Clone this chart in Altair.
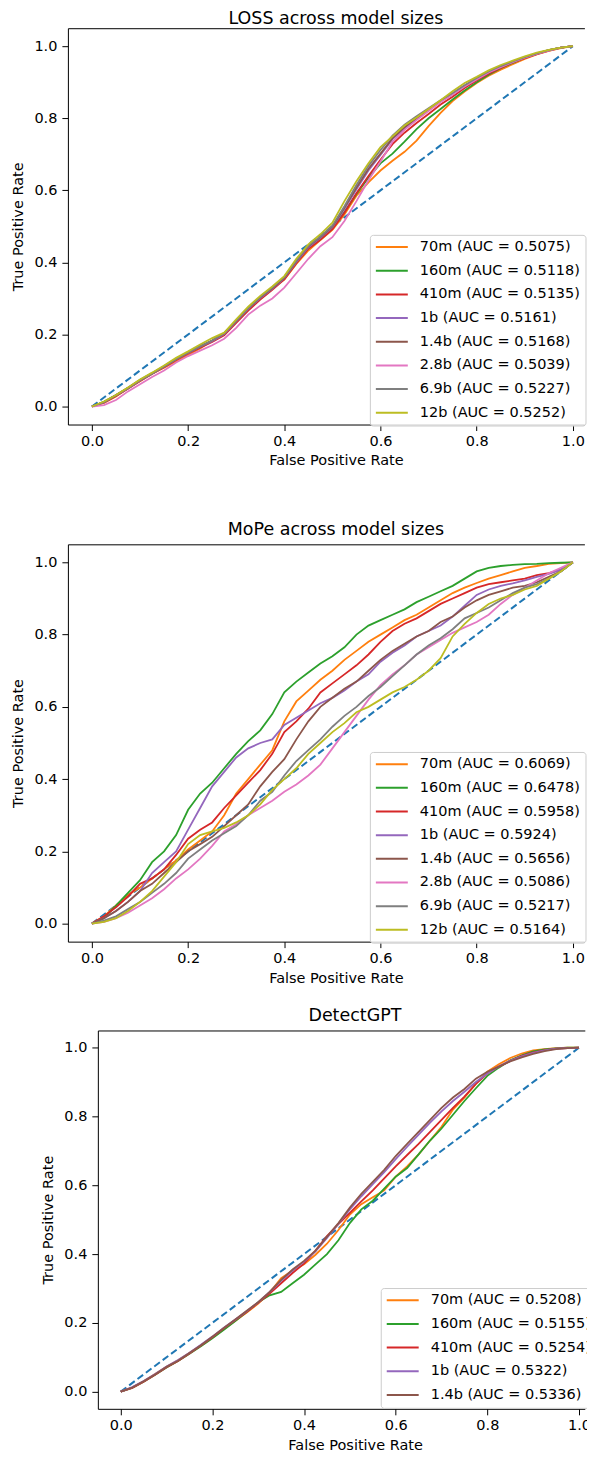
import altair as alt
import pandas as pd

FPR = [0.0, 0.025, 0.05, 0.075, 0.1, 0.125, 0.15, 0.175, 0.2, 0.225, 0.25, 0.275, 0.3, 0.325,
       0.35, 0.375, 0.4, 0.425, 0.45, 0.475, 0.5, 0.525, 0.55, 0.575, 0.6, 0.625, 0.65, 0.675,
       0.7, 0.725, 0.75, 0.775, 0.8, 0.825, 0.85, 0.875, 0.9, 0.925, 0.95, 0.975, 1.0]

MODELS8 = ["70m", "160m", "410m", "1b", "1.4b", "2.8b", "6.9b", "12b"]
MODELS5 = ["70m", "160m", "410m", "1b", "1.4b"]
COLORS = ["#ff7f0e", "#2ca02c", "#d62728", "#9467bd", "#8c564b", "#e377c2", "#7f7f7f", "#bcbd22"]

# ---- LOSS panel ----
LOSS_AUC = ["0.5075", "0.5118", "0.5135", "0.5161", "0.5168", "0.5039", "0.5227", "0.5252"]
LOSS_70M = [0, .010, .028, .051, .070, .091, .108, .126, .143, .161, .183, .204, .238, .272, .299, .330, .352, .396, .433, .462, .490, .533, .585, .622, .655, .682, .707, .738, .778, .815, .848, .874, .898, .918, .935, .950, .965, .977, .987, .995, 1.0]
LOSS_160M = [0, .013, .031, .051, .073, .092, .112, .133, .150, .168, .182, .202, .238, .272, .303, .328, .358, .402, .440, .468, .497, .540, .590, .635, .675, .702, .735, .770, .800, .826, .852, .877, .900, .921, .939, .954, .968, .979, .989, .996, 1.0]
LOSS_410M = [0, .011, .029, .049, .071, .090, .109, .129, .147, .163, .179, .198, .232, .266, .297, .324, .353, .398, .438, .463, .492, .538, .592, .640, .685, .728, .760, .787, .812, .838, .860, .884, .905, .924, .940, .955, .967, .978, .988, .996, 1.0]
LOSS_1B = [0, .012, .031, .051, .072, .091, .111, .131, .149, .166, .181, .201, .236, .271, .301, .327, .356, .401, .442, .468, .498, .548, .603, .655, .698, .742, .772, .798, .823, .847, .867, .890, .910, .928, .943, .957, .969, .980, .989, .996, 1.0]
LOSS_14B = [0, .013, .032, .052, .074, .092, .112, .132, .150, .167, .183, .203, .238, .273, .303, .328, .358, .404, .445, .470, .500, .552, .608, .660, .702, .745, .775, .800, .824, .848, .868, .890, .911, .929, .944, .957, .969, .980, .989, .996, 1.0]
LOSS_28B = [0, .004, .018, .042, .062, .082, .100, .122, .140, .155, .170, .188, .218, .255, .280, .300, .330, .370, .410, .445, .470, .515, .570, .628, .680, .735, .768, .795, .820, .845, .866, .888, .908, .927, .942, .956, .968, .979, .988, .996, 1.0]
LOSS_69B = [0, .012, .031, .051, .073, .091, .111, .131, .150, .167, .183, .203, .238, .273, .304, .330, .360, .405, .446, .472, .502, .556, .615, .668, .712, .752, .782, .806, .828, .850, .870, .892, .912, .930, .945, .958, .970, .980, .989, .996, 1.0]
LOSS_12B = [0, .014, .032, .053, .075, .094, .114, .135, .153, .172, .190, .205, .242, .277, .307, .333, .362, .410, .450, .478, .510, .570, .625, .675, .720, .750, .780, .802, .826, .850, .875, .898, .915, .933, .948, .960, .972, .982, .990, .996, 1.0]

# ---- MoPe panel ----
MOPE_AUC = ["0.6069", "0.6478", "0.5958", "0.5924", "0.5656", "0.5086", "0.5217", "0.5164"]
MOPE_70M = [0, .02, .05, .08, .10, .125, .15, .175, .205, .23, .255, .30, .36, .40, .44, .48, .56, .615, .645, .675, .70, .73, .755, .78, .80, .82, .84, .855, .875, .895, .915, .93, .943, .955, .965, .975, .985, .99, .996, .998, 1.0]
MOPE_160M = [0, .015, .05, .085, .12, .17, .20, .245, .315, .36, .39, .43, .47, .505, .535, .58, .64, .67, .695, .72, .74, .765, .80, .825, .84, .855, .87, .89, .905, .92, .935, .955, .975, .985, .99, .993, .995, .996, .998, .999, 1.0]
MOPE_410M = [0, .02, .045, .075, .11, .125, .15, .19, .235, .26, .28, .32, .355, .39, .425, .47, .53, .56, .595, .64, .665, .69, .715, .745, .78, .81, .83, .845, .865, .885, .90, .915, .93, .94, .945, .95, .955, .965, .97, .98, 1.0]
MOPE_1B = [0, .015, .035, .06, .09, .14, .17, .20, .26, .32, .38, .42, .46, .485, .50, .51, .55, .57, .59, .61, .625, .645, .67, .69, .725, .75, .77, .795, .81, .825, .85, .88, .91, .925, .935, .942, .95, .96, .968, .98, 1.0]
MOPE_14B = [0, .015, .035, .06, .09, .11, .14, .17, .20, .22, .24, .27, .30, .33, .38, .42, .455, .51, .56, .60, .625, .65, .67, .70, .73, .755, .775, .795, .81, .835, .85, .875, .895, .91, .92, .93, .935, .945, .96, .975, 1.0]
MOPE_28B = [0, .005, .015, .03, .05, .07, .095, .125, .15, .18, .215, .255, .275, .30, .32, .34, .365, .385, .41, .44, .485, .53, .575, .62, .66, .69, .715, .745, .765, .785, .805, .82, .835, .855, .885, .91, .93, .95, .97, .985, 1.0]
MOPE_69B = [0, .008, .02, .04, .06, .085, .11, .14, .18, .205, .23, .25, .27, .30, .34, .365, .41, .45, .48, .51, .545, .575, .60, .63, .655, .685, .715, .745, .77, .79, .815, .845, .86, .875, .895, .915, .93, .94, .955, .975, 1.0]
MOPE_12B = [0, .005, .015, .035, .06, .09, .13, .17, .22, .245, .255, .265, .28, .30, .33, .37, .40, .43, .47, .50, .53, .555, .585, .60, .62, .64, .655, .675, .70, .735, .795, .83, .86, .885, .90, .91, .925, .935, .955, .975, 1.0]

# ---- DetectGPT panel ----
DGPT_AUC = ["0.5208", "0.5155", "0.5254", "0.5322", "0.5336"]
DGPT_70M = [0, .012, .030, .051, .072, .091, .112, .134, .157, .182, .206, .230, .256, .288, .330, .352, .370, .398, .430, .470, .515, .545, .565, .585, .625, .655, .690, .730, .770, .820, .855, .895, .930, .952, .970, .983, .992, .996, .999, 1.0, 1.0]
DGPT_160M = [0, .011, .029, .049, .070, .089, .110, .132, .155, .180, .205, .232, .260, .280, .290, .315, .340, .370, .400, .440, .490, .530, .555, .590, .625, .650, .690, .730, .765, .805, .845, .882, .918, .942, .963, .978, .989, .995, .998, 1.0, 1.0]
DGPT_410M = [0, .011, .029, .049, .071, .089, .111, .134, .158, .184, .208, .232, .258, .285, .315, .345, .372, .410, .452, .487, .520, .553, .585, .620, .655, .688, .720, .755, .790, .825, .858, .895, .925, .945, .962, .976, .986, .993, .997, .999, 1.0]
DGPT_1B = [0, .013, .031, .051, .073, .092, .113, .136, .160, .186, .210, .234, .260, .290, .322, .352, .378, .408, .447, .488, .530, .568, .603, .638, .676, .712, .747, .782, .815, .845, .872, .900, .925, .945, .962, .975, .985, .992, .997, .999, 1.0]
DGPT_14B = [0, .012, .030, .050, .072, .090, .112, .135, .160, .185, .210, .235, .260, .290, .325, .355, .380, .410, .450, .490, .535, .575, .610, .645, .685, .720, .755, .790, .825, .855, .880, .910, .930, .945, .960, .972, .982, .990, .996, .999, 1.0]

DIAG_X = [0.0, 1.0]
DIAG_Y = [0.0, 1.0]
TICKS = [0.0, 0.2, 0.4, 0.6, 0.8, 1.0]

FONT = "DejaVu Sans"
FS = 14.5


def panel(title, models, aucs, series, xmax, width, height, lx, ly, title_dx, xtitle_x, title_offset):
    labels = [f"{m} (AUC = {a})" for m, a in zip(models, aucs)]
    rows = []
    for lab, tpr in zip(labels, series):
        for f, t in zip(FPR, tpr):
            rows.append({"fpr": f, "tpr": t, "label": lab})
    df = pd.DataFrame(rows)
    xs = alt.Scale(domain=[-0.05, xmax], nice=False, zero=False)
    ys = alt.Scale(domain=[-0.05, 1.05], nice=False, zero=False)
    xa = alt.Axis(values=TICKS, format=".1f", title="False Positive Rate", grid=False,
                  tickSize=6, labelPadding=4, titlePadding=6, domain=True, titleX=xtitle_x)
    xtop = alt.Axis(orient="top", labels=False, ticks=False, title="", grid=False, domain=True)
    ya = alt.Axis(values=TICKS, format=".1f", title="True Positive Rate", grid=False,
                  tickSize=6, labelPadding=5, titlePadding=8, domain=True)
    diag = alt.Chart(pd.DataFrame({"x": DIAG_X, "y": DIAG_Y})).mark_line(
        color="#1f77b4", strokeWidth=2, strokeDash=[7, 3.5]
    ).encode(x=alt.X("x:Q", scale=xs, axis=xa), y=alt.Y("y:Q", scale=ys, axis=ya))
    lines = alt.Chart(df).mark_line(strokeWidth=1.8).encode(
        x=alt.X("fpr:Q", scale=xs, axis=xtop),
        y=alt.Y("tpr:Q", scale=ys, axis=ya),
        color=alt.Color(
            "label:N",
            scale=alt.Scale(domain=labels, range=COLORS[: len(labels)]),
            legend=alt.Legend(
                title=None, orient="none", legendX=lx, legendY=ly,
                symbolType="stroke", symbolSize=1024, symbolStrokeWidth=2,
                clipHeight=FS, labelFont=FONT, labelFontSize=FS, labelColor="#000",
                labelOffset=11, labelLimit=400, rowPadding=7.7, padding=5,
                strokeColor="#cccccc", cornerRadius=3, fillColor="rgba(255,255,255,0.8)",
            ),
        ),
    )
    return alt.layer(diag, lines).resolve_axis(x="independent").properties(
        width=width, height=height, title=alt.Title(title, dx=title_dx, offset=title_offset)
    )


p1 = panel("LOSS across model sizes", MODELS8, LOSS_AUC,
           [LOSS_70M, LOSS_160M, LOSS_410M, LOSS_1B, LOSS_14B, LOSS_28B, LOSS_69B, LOSS_12B],
           1.024, 517.4, 397, 302.5, 207, 9.8, 268.5, 1)
p2 = panel("MoPe across model sizes", MODELS8, MOPE_AUC,
           [MOPE_70M, MOPE_160M, MOPE_410M, MOPE_1B, MOPE_14B, MOPE_28B, MOPE_69B, MOPE_12B],
           1.024, 517.4, 398, 302.5, 208, 9.8, 268.5, 6)
p3 = panel("DetectGPT", MODELS5, DGPT_AUC,
           [DGPT_70M, DGPT_160M, DGPT_410M, DGPT_1B, DGPT_14B],
           1.0127, 487.8, 379, 313.4, 258, 13.6, 257.7, 6)

# empty, invisible cell that pushes the third panel to the right
spacer = alt.Chart(pd.DataFrame({"v": [0]})).mark_rect(opacity=0).encode(
    x=alt.value(0), x2=alt.value(29.6), y=alt.value(0), y2=alt.value(5)
).properties(width=29.6, height=5)

row3 = alt.hconcat(spacer, p3, spacing=0, bounds="flush")
top2 = alt.vconcat(p1, p2, spacing=52).resolve_scale(color="independent")

chart = alt.vconcat(top2, row3, spacing=21).resolve_scale(color="independent").properties(
    padding={"left": 2, "top": 0, "right": -10, "bottom": -2}
).configure_view(stroke="transparent").configure_axis(
    labelFont=FONT, labelFontSize=FS, labelColor="#000", titleFont=FONT, titleFontSize=FS,
    titleFontWeight="normal", titleColor="#000", tickColor="#000", tickWidth=1,
    domainColor="#000", domainWidth=1
).configure_title(font=FONT, fontSize=17.5, fontWeight="normal", color="#000", offset=6)

chart.save("out.html", embed_options={"renderer": "svg", "actions": False})
